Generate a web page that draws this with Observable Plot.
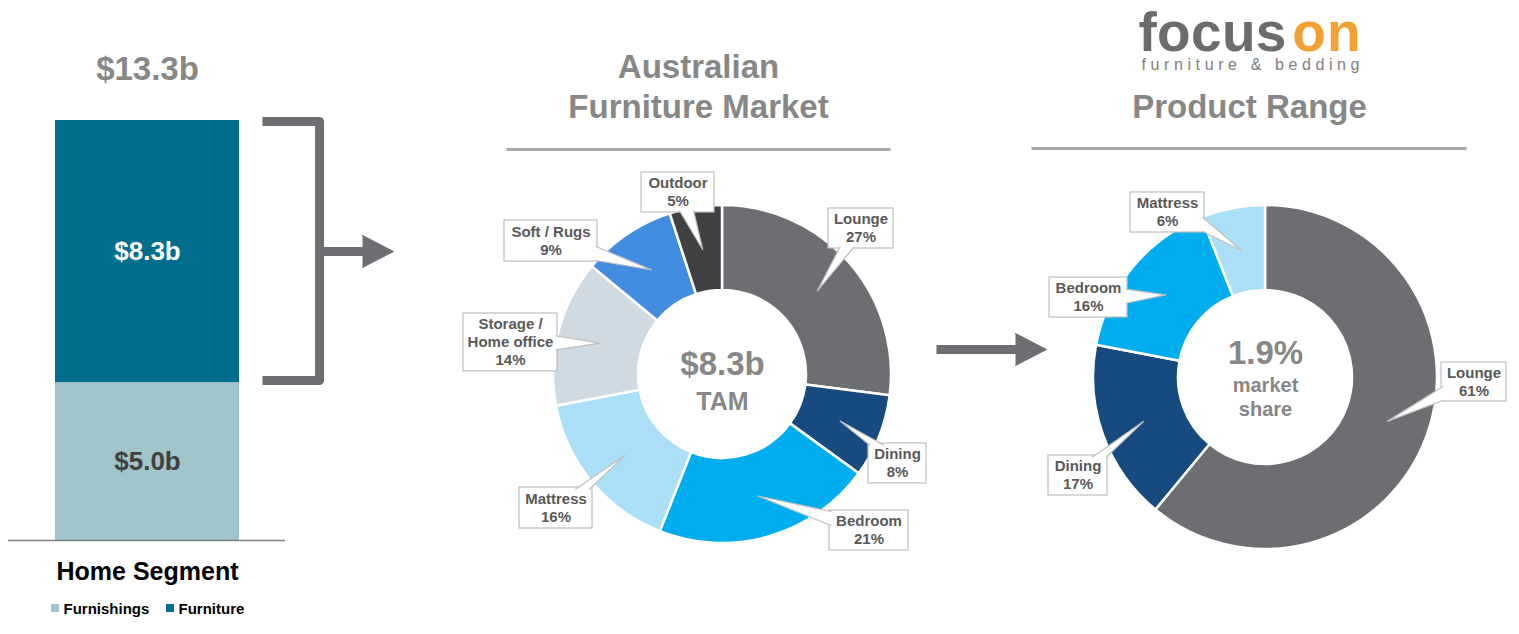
<!DOCTYPE html>
<html>
<head>
<meta charset="utf-8">
<script src="https://cdn.jsdelivr.net/npm/d3@7"></script>
<script src="https://cdn.jsdelivr.net/npm/@observablehq/plot@0.6"></script>
<style>
  body { margin: 0; background: #ffffff; }
  #chart { position: relative; width: 1519px; height: 634px; overflow: hidden; font-family: "Liberation Sans", Arial, Helvetica, sans-serif; }
</style>
</head>
<body>
<div id="chart"></div>
<script>
// ---------------- DATA ----------------
const homeSegmentName = "Home Segment";
const homeCategories = ["Furnishings", "Furniture"];
const homeValues = [5.0, 8.3];
const homeLabels = ["$5.0b", "$8.3b"];
const homeTotalLabel = "$13.3b";

const marketTitle = ["Australian", "Furniture Market"];
const marketCategories = ["Lounge", "Dining", "Bedroom", "Mattress", "Storage /\nHome office", "Soft / Rugs", "Outdoor"];
const marketShares = [27, 8, 21, 16, 14, 9, 5];
const marketCenter = ["$8.3b", "TAM"];

const rangeTitle = "Product Range";
const rangeCategories = ["Lounge", "Dining", "Bedroom", "Mattress"];
const rangeShares = [61, 17, 16, 6];
const rangeCenter = ["1.9%", "market", "share"];

const logoWords = ["focus", "on"];
const logoTagline = "furniture & bedding";

// ---------------- STYLE / LAYOUT ----------------
const FONT = "'Liberation Sans', Arial, Helvetica, sans-serif";
const GREY_TXT = "#878787";
const CALLOUT_TXT = "#595959";
const BORDER = "#bfbfbf";
const DARK = "#6d6e71";

const homeColors = ["#a1c4cb", "#006f8e"];
const palette = {
  "Lounge": "#6d6e71",
  "Dining": "#174a7e",
  "Bedroom": "#00aeef",
  "Mattress": "#abdff8",
  "Storage /\nHome office": "#d0dae2",
  "Soft / Rugs": "#438de0",
  "Outdoor": "#414042"
};

const marketLayout = {
  cx: 722, cy: 374, ri: 84, ro: 169,
  boxes: {
    "Lounge": [828, 208, 893, 248],
    "Dining": [868, 443, 926, 483],
    "Bedroom": [829, 510, 908, 550],
    "Mattress": [519, 487, 592, 528],
    "Storage /\nHome office": [463, 313, 557, 371],
    "Soft / Rugs": [504, 220, 597, 261],
    "Outdoor": [641, 172, 714, 212]
  }
};
const rangeLayout = {
  cx: 1265, cy: 377, ri: 87, ro: 172,
  boxes: {
    "Lounge": [1441, 362, 1506, 401],
    "Dining": [1048, 455, 1107, 495],
    "Bedroom": [1049, 277, 1127, 317],
    "Mattress": [1130, 192, 1204, 232]
  }
};
const legendX = [51, 166];

// ---------------- HELPERS ----------------
function donutMark(categories, shares, L) {
  return () => {
    const arcs = d3.pie().sort(null).value(d => d)(shares);
    const arc = d3.arc().innerRadius(L.ri).outerRadius(L.ro);
    const g = d3.create("svg:g").attr("transform", `translate(${L.cx},${L.cy})`);
    g.selectAll("path").data(arcs).join("path")
      .attr("d", arc)
      .attr("fill", (d, i) => palette[categories[i]])
      .attr("stroke", "#ffffff")
      .attr("stroke-width", 2.5)
      .attr("stroke-linejoin", "round");
    return g.node();
  };
}

// split a multi-line label into single-line rows centred on (x, y)
function lineRows(lines, x, y, lineHeight) {
  const n = lines.length;
  return lines.map((t, j) => ({x, y: y + (j - (n - 1) / 2) * lineHeight, text: t}));
}

function callouts(categories, shares, L, key) {
  const arcs = d3.pie().sort(null).value(d => d)(shares);
  const rMid = (L.ri + L.ro) / 2;
  const boxes = [], wedges = [], labels = [];
  arcs.forEach((a, i) => {
    const cat = categories[i];
    const [x1, y1, x2, y2] = L.boxes[cat];
    const mid = (a.startAngle + a.endAngle) / 2;
    const tx = L.cx + rMid * Math.sin(mid), ty = L.cy - rMid * Math.cos(mid);
    const bx = (x1 + x2) / 2, by = (y1 + y2) / 2;
    const hw = (x2 - x1) / 2, hh = (y2 - y1) / 2;
    const dx = tx - bx, dy = ty - by;
    const tX = dx !== 0 ? hw / Math.abs(dx) : Infinity;
    const tY = dy !== 0 ? hh / Math.abs(dy) : Infinity;
    const id = key + i;
    let b1, b2;
    if (tX < tY) {
      const ex = bx + Math.sign(dx) * (hw - 1.5);
      const ey = Math.max(y1 + 8, Math.min(y2 - 8, by + dy * tX));
      b1 = [ex, ey - 7]; b2 = [ex, ey + 7];
    } else {
      const ey = by + Math.sign(dy) * (hh - 1.5);
      const ex = Math.max(x1 + 8, Math.min(x2 - 8, bx + dx * tY));
      b1 = [ex - 7, ey]; b2 = [ex + 7, ey];
    }
    boxes.push({x1, y1, x2, y2});
    wedges.push({id, x: b1[0], y: b1[1]}, {id, x: tx, y: ty}, {id, x: b2[0], y: b2[1]});
    labels.push(...lineRows([...cat.split("\n"), `${shares[i]}%`], bx, by, 18));
  });
  return [
    Plot.rect(boxes, {x1: "x1", y1: "y1", x2: "x2", y2: "y2", fill: "#ffffff", stroke: BORDER, strokeWidth: 1.2}),
    Plot.line(wedges, {x: "x", y: "y", z: "id", fill: "#ffffff", stroke: BORDER, strokeWidth: 1.2, curve: "linear"}),
    Plot.text(labels, {x: "x", y: "y", text: "text", fontFamily: FONT, fontSize: 15, fontWeight: "bold", fill: CALLOUT_TXT})
  ];
}

// ---------------- BAR CHART (nested inside the main svg) ----------------
const homeRows = homeCategories.map((c, i) => ({group: homeSegmentName, category: c, value: homeValues[i], label: homeLabels[i]}));
const homeTotal = d3.sum(homeValues);

const bar = Plot.plot({
  width: 300, height: 634,
  marginLeft: 8, marginRight: 15, marginTop: 0, marginBottom: 0,
  x: {domain: [homeSegmentName], range: [55, 239], padding: 0, axis: null},
  y: {domain: [0, homeTotal], range: [540, 120], axis: null},
  color: {domain: homeCategories, range: homeColors},
  style: {background: "transparent", fontFamily: FONT},
  marks: [
    Plot.barY(homeRows, {x: "group", y: "value", fill: "category", inset: 0}),
    Plot.text(homeRows, Plot.stackY({
      x: "group", y: "value", text: "label",
      fill: d => d.category === "Furniture" ? "#ffffff" : "#404040",
      fontFamily: FONT, fontSize: 26, fontWeight: "bold"
    })),
    Plot.ruleY([0], {stroke: "#808080", strokeWidth: 1.5}),
    Plot.text([{v: homeTotal}], {x: () => homeSegmentName, y: "v", text: () => homeTotalLabel, dy: -51, fontFamily: FONT, fontSize: 33, fontWeight: "bold", fill: GREY_TXT}),
    Plot.text([homeSegmentName], {x: d => d, y: () => 0, dy: 31, text: d => d, fontFamily: FONT, fontSize: 25, fontWeight: "bold", fill: "#000000"})
  ]
});
bar.setAttribute("x", 0);
bar.setAttribute("y", 0);

// ---------------- MAIN (donuts, titles, decorations) ----------------
const legendRows = homeCategories.map((c, i) => ({x: legendX[i], c, col: homeColors[i]}));

const main = Plot.plot({
  width: 1519, height: 634, margin: 0,
  x: {type: "identity", axis: null}, y: {type: "identity", axis: null},
  style: {background: "#ffffff", fontFamily: FONT},
  marks: [
    () => bar,
    // legend
    Plot.rect(legendRows, {x1: "x", x2: d => d.x + 8, y1: 604, y2: 612, fill: "col"}),
    Plot.text(legendRows, {x: d => d.x + 12, y: 609, text: "c", textAnchor: "start", fontFamily: FONT, fontSize: 15, fontWeight: "bold", fill: "#000000"}),
    // bracket + arrow (left)
    Plot.line([{x: 262, y: 121}, {x: 319, y: 121}, {x: 319, y: 380}, {x: 262, y: 380}], {x: "x", y: "y", stroke: DARK, strokeWidth: 9, strokeLinejoin: "round", strokeLinecap: "butt"}),
    Plot.line([{x: 319, y: 251}, {x: 364, y: 251}], {x: "x", y: "y", stroke: DARK, strokeWidth: 9, strokeLinecap: "butt"}),
    Plot.line([{x: 362, y: 235}, {x: 393, y: 251}, {x: 362, y: 267}], {x: "x", y: "y", fill: DARK, stroke: DARK, strokeWidth: 1, strokeLinejoin: "miter"}),
    // middle arrow
    Plot.line([{x: 936, y: 349}, {x: 1017, y: 349}], {x: "x", y: "y", stroke: DARK, strokeWidth: 9, strokeLinecap: "butt"}),
    Plot.line([{x: 1015, y: 333}, {x: 1046, y: 349}, {x: 1015, y: 365}], {x: "x", y: "y", fill: DARK, stroke: DARK, strokeWidth: 1, strokeLinejoin: "miter"}),
    // titles
    Plot.text(lineRows(marketTitle, 698, 87, 40), {x: "x", y: "y", text: "text", fontFamily: FONT, fontSize: 33, fontWeight: "bold", fill: GREY_TXT}),
    Plot.text([{x: 1249, y: 107, t: rangeTitle}], {x: "x", y: "y", text: "t", fontFamily: FONT, fontSize: 33, fontWeight: "bold", fill: GREY_TXT}),
    Plot.link([{x1: 506, x2: 890, y: 149}, {x1: 1031, x2: 1466, y: 148}], {x1: "x1", x2: "x2", y1: "y", y2: "y", stroke: "#a6a6a6", strokeWidth: 3}),
    // logo
    Plot.text([{x: 1138, y: 50, t: logoWords[0]}], {x: "x", y: "y", text: "t", textAnchor: "start", lineAnchor: "bottom", fontFamily: FONT, fontSize: 55, fontWeight: "bold", fill: "#6b6d6b"}),
    Plot.text([{x: 1361, y: 50, t: logoWords[1]}], {x: "x", y: "y", text: "t", textAnchor: "end", lineAnchor: "bottom", fontFamily: FONT, fontSize: 55, fontWeight: "bold", fill: "#f3a033"}),
    Plot.text([{x: 1141, y: 69, t: logoTagline}], {x: "x", y: "y", text: "t", textAnchor: "start", lineAnchor: "bottom", fontFamily: FONT, fontSize: 16, fill: "#7d7e80"}),
    // donuts
    donutMark(marketCategories, marketShares, marketLayout),
    donutMark(rangeCategories, rangeShares, rangeLayout),
    // center labels
    Plot.text([{x: marketLayout.cx, y: 364, t: marketCenter[0]}], {x: "x", y: "y", text: "t", fontFamily: FONT, fontSize: 33, fontWeight: "bold", fill: GREY_TXT}),
    Plot.text([{x: marketLayout.cx, y: 401, t: marketCenter[1]}], {x: "x", y: "y", text: "t", fontFamily: FONT, fontSize: 25, fontWeight: "bold", fill: GREY_TXT}),
    Plot.text([{x: rangeLayout.cx, y: 353, t: rangeCenter[0]}], {x: "x", y: "y", text: "t", fontFamily: FONT, fontSize: 33, fontWeight: "bold", fill: GREY_TXT}),
    Plot.text(lineRows(rangeCenter.slice(1), rangeLayout.cx, 397, 24), {x: "x", y: "y", text: "text", fontFamily: FONT, fontSize: 20, fontWeight: "bold", fill: GREY_TXT}),
    // callouts
    ...callouts(marketCategories, marketShares, marketLayout, "m"),
    ...callouts(rangeCategories, rangeShares, rangeLayout, "r")
  ]
});

// letter spacing for logo
main.querySelectorAll("text").forEach(t => {
  if (t.textContent === logoWords[0]) t.setAttribute("letter-spacing", "0.3");
  if (t.textContent === logoWords[1]) t.setAttribute("letter-spacing", "1");
  if (t.textContent === logoTagline) t.setAttribute("letter-spacing", "4.6");
});

document.getElementById("chart").appendChild(main);
</script>
</body>
</html>
